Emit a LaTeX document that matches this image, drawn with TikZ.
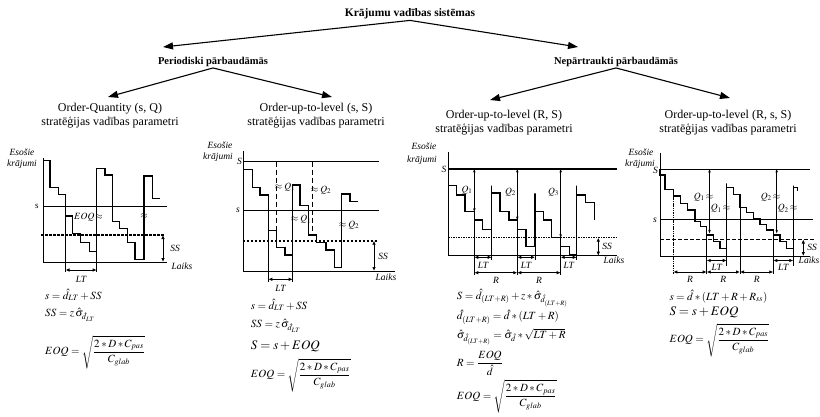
\documentclass[tikz,border=0pt]{standalone}
\usepackage{amsmath}
\usepackage{mathptmx}
\usepackage[no-math]{fontspec}
\setmainfont{Liberation Serif}
\usetikzlibrary{arrows.meta}
\begin{document}
\begin{tikzpicture}[x=1pt,y=-1pt,
  arr/.style={line width=1.1pt,-{Triangle[length=10pt,width=7pt]}},
  ttl/.style={font=\bfseries\fontsize{11.5}{13}\selectfont,inner sep=1pt},
  ttl2/.style={font=\bfseries\fontsize{10.5}{12}\selectfont,inner sep=1pt},
  sub/.style={font=\fontsize{12}{14}\selectfont,inner sep=1pt,align=center},
  lab/.style={font=\itshape\fontsize{9.5}{10}\selectfont,inner sep=0pt},
  mlab/.style={font=\fontsize{9.5}{10}\selectfont,inner sep=0pt},
  axis/.style={line width=0.9pt},
  lvl/.style={line width=0.7pt},
  curve/.style={line width=1.4pt,line join=miter},
  ext/.style={line width=0.9pt},
  dsh/.style={line width=1.6pt,dash pattern=on 2.5pt off 1.5pt},
  dim/.style={line width=0.8pt,{Latex[length=4pt,width=3.5pt]}-{Latex[length=4pt,width=3.5pt]}},
  qarr/.style={line width=0.6pt,{Stealth[length=3.5pt,width=2.5pt]}-{Stealth[length=3.5pt,width=2.5pt]}},
  frm/.style={font=\fontsize{11}{13}\selectfont,inner sep=0pt,anchor=west},
  frmb/.style={font=\fontsize{13}{15}\selectfont,inner sep=0pt,anchor=west},
]
\useasboundingbox (0,0) rectangle (820,417);

% ---------- tree ----------
\node[ttl] (t) at (410,14) {Krājumu vadības sistēmas};
\node[ttl2] (per) at (213,62) {Periodiski pārbaudāmās};
\node[ttl2] (nep) at (616,62) {Nepārtraukti pārbaudāmās};
\node[sub] (oq) at (110,116) {Order-Quantity (s, Q)\\stratēģijas vadības parametri};
\node[sub] (ss) at (316,116) {Order-up-to-level (s, S)\\stratēģijas vadības parametri};
\node[sub] (rs) at (504,123) {Order-up-to-level (R, S)\\stratēģijas vadības parametri};
\node[sub] (rss) at (728,123) {Order-up-to-level (R, s, S)\\stratēģijas vadības parametri};
\coordinate (tL) at (163,47);
\coordinate (tR) at (578,47);
\coordinate (tOQ) at (108,97);
\coordinate (tSS) at (332,97);
\coordinate (tRS) at (490,100);
\coordinate (tRSS) at (730,98);
\draw[arr] (t.south) -- (tL);
\draw[arr] (t.south) -- (tR);
\draw[arr] (per.south) -- (tOQ);
\draw[arr] (per.south) -- (tSS);
\draw[arr] (nep.south) -- (tRS);
\draw[arr] (nep.south) -- (tRSS);

% ---------- chart 1 (s,Q) ----------
\node[lab] (c1e) at (22,152) {Esošie};
\node[lab] (c1k) at (22,164) {krājumi};
\node[lab] (c1l) at (182,266) {Laiks};
\node[font=\fontsize{9}{9}\selectfont,inner sep=0pt] (c1s) at (37,206) {s};
\draw[axis] (43,158) -- (43,262) -- (167,262);
\draw[lvl] (43,206.7) -- (167,206.7);
\draw[dsh] (41,235) -- (165,235);
\draw[curve] (43,160.7) -- (50,160.7) -- (50,187.7) -- (58.3,187.7) -- (58.3,194.3) -- (65.5,194.3) -- (65.5,216) -- (72.7,216) -- (72.7,233.3) -- (80.7,233.3) -- (80.7,242.7) -- (89.3,242.7) -- (89.3,251.7) -- (96.7,251.7) -- (96.7,168.3) -- (105,168.3) -- (105,175) -- (112.3,175) -- (112.3,221.7) -- (119.3,221.7) -- (119.3,228.3) -- (127.3,228.3) -- (127.3,242.7) -- (135,242.7) -- (135,259.3) -- (144,259.3) -- (144,176) -- (152.7,176) -- (152.7,198.3) -- (160,198.3);
\draw[ext] (65.5,216) -- (65.5,272);
\draw[ext] (96.7,251.7) -- (96.7,272);
\draw[dim] (65.5,270) -- (96.7,270);
\node[lab] (c1lt) at (81,279) {LT};
\draw[dim] (163,235) -- (163,262);
\node[lab] (c1ss) at (175,248) {SS};
\node[mlab,anchor=west] (c1eoq) at (74,217) {$EOQ\!\approx$};
\node[mlab] (c1ap) at (144,216) {$\approx$};
% formulas
\node[frm] (f1a) at (45,295) {$s=\hat d_{LT}+SS$};
\node[frm] (f1b) at (45,315) {$SS=z\,\hat\sigma_{\hat d_{LT}}$};
\node[frm] (f1c) at (45,352) {$EOQ=\sqrt{\dfrac{2*D*C_{pas}}{C_{glab}}}$};

% ---------- chart 2 (s,S) ----------
\node[lab] (c2e) at (220,145) {Esošie};
\node[lab] (c2k) at (218,157) {krājumi};
\node[lab] (c2S) at (239.5,161) {S};
\node[lab] (c2s) at (238,210.7) {s};
\node[lab] (c2l) at (386,277) {Laiks};
\draw[axis] (243.3,151) -- (243.3,271) -- (395,271);
\draw[lvl] (243.3,161.7) -- (379.3,161.7);
\draw[lvl] (243.3,210.7) -- (379.3,210.7);
\draw[dsh] (242.7,240.7) -- (376.7,240.7);
\draw[curve] (243.3,169.3) -- (252.3,169.3) -- (252.3,187.7) -- (260,187.7) -- (260,195) -- (268.3,195) -- (268.3,230.7) -- (276.7,230.7) -- (276.7,247.5) -- (285,247.5) -- (285,255) -- (292.7,255) -- (292.7,185) -- (300,185) -- (300,205.7) -- (308.3,205.7) -- (308.3,235) -- (316.7,235) -- (316.7,242.7) -- (326,242.7) -- (326,250) -- (334.3,250) -- (334.3,267.7) -- (341.7,267.7) -- (341.7,194) -- (350,194) -- (350,201.7) -- (357.7,201.7);
\draw[line width=1.4pt,dash pattern=on 5pt off 3pt] (276.7,161.7) -- (276.7,230.7);
\draw[line width=1.4pt,dash pattern=on 5pt off 3pt] (312.7,161.7) -- (312.7,235);
\draw[ext] (268.3,230.7) -- (268.3,282);
\draw[ext] (292.7,255) -- (292.7,282);
\draw[dim] (268.3,279.3) -- (292.7,279.3);
\node[lab] (c2lt) at (280.5,288.5) {LT};
\draw[dim] (374,240.7) -- (374,271);
\node[lab] (c2ss) at (383,256.7) {SS};
\node[mlab] (c2q1) at (285,186.7) {$\approx Q_1$};
\node[mlab] (c2q2) at (321,190) {$\approx Q_2$};
\node[mlab] (c2q3) at (301,219.3) {$\approx Q_1$};
\node[mlab] (c2q4) at (349,225) {$\approx Q_2$};
% formulas
\node[frm] (f2a) at (250.7,305) {$s=\hat d_{LT}+SS$};
\node[frm] (f2b) at (250.7,326) {$SS=z\,\hat\sigma_{\hat d_{LT}}$};
\node[frmb] (f2c) at (250.7,346.7) {$S=s+EOQ$};
\node[frm] (f2d) at (250.7,375) {$EOQ=\sqrt{\dfrac{2*D*C_{pas}}{C_{glab}}}$};

% ---------- chart 3 (R,S) ----------
\node[lab] (c3e) at (424,146.5) {Esošie};
\node[lab] (c3k) at (422,160) {krājumi};
\node[lab] (c3S) at (444,169.5) {S};
\node[lab] (c3l) at (614,260) {Laiks};
\draw[axis] (448.3,151.7) -- (448.3,255.7) -- (616.7,255.7);
\draw[line width=1.3pt] (448.3,169) -- (616.7,169);
\draw[line width=1.5pt,dash pattern=on 1.5pt off 1pt] (448.3,237.7) -- (616.7,237.7);
\draw[curve] (448.3,169) -- (448.3,185.7) -- (456.7,185.7) -- (456.7,195) -- (465,195) -- (465,211.7) -- (474.3,211.7) -- (474.3,220) -- (482.7,220) -- (482.7,229.3) -- (491.7,229.3) -- (491.7,185.7) -- (491.7,193) -- (500,193) -- (500,211.7) -- (509,211.7) -- (509,220) -- (517.3,220) -- (517.3,229.3) -- (526,229.3) -- (526,246.7) -- (535,246.7) -- (535,193.3) -- (535,211.7) -- (543.3,211.7) -- (543.3,220) -- (551.7,220) -- (551.7,237.7) -- (560.7,237.7) -- (560.7,246.7) -- (569.3,246.7) -- (569.3,255) -- (576.7,255) -- (576.7,185.7) -- (576.7,195) -- (585.7,195) -- (585.7,202.7) -- (594.3,202.7) -- (594.3,220);
\draw[qarr] (474.3,169) -- (474.3,211.7);
\draw[qarr] (517.3,169) -- (517.3,220);
\draw[qarr] (560.7,169) -- (560.7,237.7);
\node[mlab] (c3q1) at (467,190) {$Q_1$};
\node[mlab] (c3q2) at (510.5,191.7) {$Q_2$};
\node[mlab] (c3q3) at (553.5,191.7) {$Q_3$};
\draw[ext] (474.3,211.7) -- (474.3,275);
\draw[ext] (517.3,220) -- (517.3,275);
\draw[ext] (560.7,237.7) -- (560.7,275);
\draw[ext] (491.7,229.3) -- (491.7,259.5);
\draw[ext] (535,246.7) -- (535,259.5);
\draw[ext] (576.7,255) -- (576.7,259.5);
\draw[dim] (474.3,257.3) -- (491.7,257.3);
\draw[dim] (517.3,257.3) -- (535,257.3);
\draw[dim] (560.7,257.3) -- (576.7,257.3);
\node[lab] (c3lt1) at (483,265) {LT};
\node[lab] (c3lt2) at (526,265) {LT};
\node[lab] (c3lt3) at (568.7,265) {LT};
\draw[dim] (474.3,272.7) -- (517.3,272.7);
\draw[dim] (517.3,272.7) -- (560.7,272.7);
\node[lab] (c3r1) at (496,280.5) {R};
\node[lab] (c3r2) at (539,280.5) {R};
\draw[dim] (598.3,237.7) -- (598.3,255.7);
\node[lab] (c3ss) at (607,246.7) {SS};
% formulas
\node[frm] (f3a) at (456.7,298) {$S=\hat d_{(LT+R)}+z*\hat\sigma_{\hat d_{(LT+R)}}$};
\node[frm] (f3b) at (456.7,317) {$\hat d_{(LT+R)}=\hat d*(LT+R)$};
\node[frm] (f3c) at (456.7,337) {$\hat\sigma_{\hat d_{(LT+R)}}=\hat\sigma_{\hat d}*\sqrt{LT+R}$};
\node[frm] (f3d) at (456.7,363.3) {$R=\dfrac{EOQ}{\hat d}$};
\node[frm] (f3e) at (456.7,396.7) {$EOQ=\sqrt{\dfrac{2*D*C_{pas}}{C_{glab}}}$};

% ---------- chart 4 (R,s,S) ----------
\node[lab] (c4e) at (641,152) {Esošie};
\node[lab] (c4k) at (640,164) {krājumi};
\node[lab] (c4S) at (655.5,170.5) {S};
\node[lab] (c4s) at (655,220) {s};
\node[lab,anchor=east] (c4l) at (819.5,260) {Laiks};
\draw[axis] (660,153) -- (660,256) -- (810,256);
\draw[lvl] (660,169) -- (810,169);
\draw[lvl] (660,219.5) -- (813,219.5);
\draw[line width=1pt,dash pattern=on 4pt off 2pt] (660,239.5) -- (815,239.5);
\draw[curve] (660,169) -- (660,175) -- (665,175) -- (665,189.3) -- (673.3,189.3) -- (673.3,196) -- (680.7,196) -- (680.7,203.3) -- (687.3,203.3) -- (687.3,210) -- (695,210) -- (695,221.7) -- (700.7,221.7) -- (700.7,226.7) -- (706.7,226.7) -- (706.7,235) -- (713.3,235) -- (713.3,241.7) -- (720,241.7) -- (720,248.3) -- (726.7,248.3) -- (726.7,183.3) -- (726.7,187.7) -- (733.3,187.7) -- (733.3,194.3) -- (740,194.3) -- (740,207.7) -- (746.7,207.7) -- (746.7,212.7) -- (753.3,212.7) -- (753.3,218.3) -- (760,218.3) -- (760,224.3) -- (766.7,224.3) -- (766.7,230) -- (773.3,230) -- (773.3,235) -- (780,235) -- (780,241.7) -- (786.7,241.7) -- (786.7,248.3) -- (793.3,248.3) -- (793.3,185.7) -- (793.3,187.7) -- (797.3,187.7) -- (797.3,191);
\draw[ext,dash pattern=on 1.5pt off 0.8pt] (673.3,189.3) -- (673.3,274);
\draw[ext] (706.7,226.7) -- (706.7,274);
\draw[ext] (740,207.7) -- (740,274);
\draw[ext] (773.3,235) -- (773.3,274);
\draw[ext] (726.7,248.3) -- (726.7,266);
\draw[ext] (793.3,248.3) -- (793.3,266);
\draw[qarr] (709.5,169) -- (709.5,233.3);
\draw[qarr] (776.7,169) -- (776.7,233.3);
\node[mlab] (c4q1) at (703.5,197) {$Q_1\!\approx$};
\node[mlab] (c4q2) at (720.5,208.5) {$Q_1\!\approx$};
\node[mlab] (c4q3) at (770.5,197) {$Q_2\!\approx$};
\node[mlab] (c4q4) at (787.5,208.5) {$Q_2\!\approx$};
\draw[dim] (706.7,260.5) -- (726.7,260.5);
\draw[dim] (773.3,260.5) -- (793.3,260.5);
\node[lab] (c4lt1) at (716.7,267.5) {LT};
\node[lab] (c4lt2) at (783.3,267.5) {LT};
\draw[dim] (673.3,272) -- (706.7,272);
\draw[dim] (706.7,272) -- (740,272);
\draw[dim] (740,272) -- (773.3,272);
\node[lab] (c4r1) at (690,279) {R};
\node[lab] (c4r2) at (723.3,279) {R};
\node[lab] (c4r3) at (756.7,279) {R};
\draw[dim] (803.3,239.5) -- (803.3,256);
\node[lab] (c4ss) at (812,247) {SS};
% formulas
\node[frm] (f4a) at (669.3,296.7) {$s=\hat d*(LT+R+R_{ss})$};
\node[frmb] (f4b) at (669.3,312.7) {$S=s+EOQ$};
\node[frm] (f4c) at (669.3,340) {$EOQ=\sqrt{\dfrac{2*D*C_{pas}}{C_{glab}}}$};
\end{tikzpicture}
\end{document}
